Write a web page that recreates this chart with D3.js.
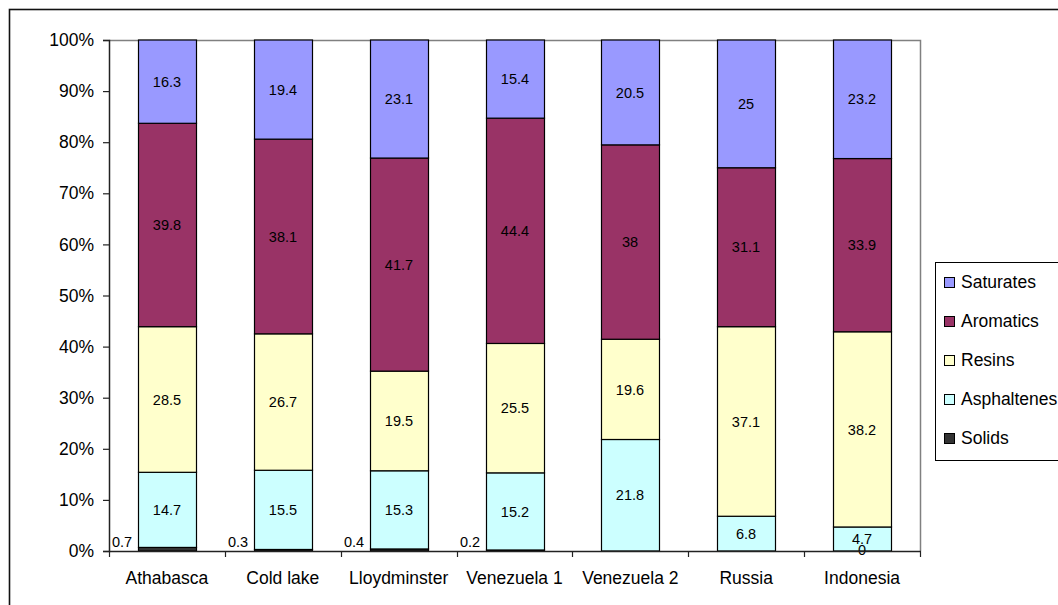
<!DOCTYPE html>
<html>
<head>
<meta charset="utf-8">
<script src="https://cdn.jsdelivr.net/npm/d3@7"></script>
<style>
  html, body { margin: 0; padding: 0; background: #fff; }
  svg { display: block; font-family: Arial, "Liberation Sans", sans-serif; }
</style>
</head>
<body>
<svg id="chart" width="1058" height="605"></svg>
<script>
// Crude oil fractions (wt %) per sample
const categories = ["Athabasca", "Cold lake", "Lloydminster", "Venezuela 1", "Venezuela 2", "Russia", "Indonesia"];
const saturates   = [16.3, 19.4, 23.1, 15.4, 20.5, 25,   23.2];
const aromatics   = [39.8, 38.1, 41.7, 44.4, 38,   31.1, 33.9];
const resins      = [28.5, 26.7, 19.5, 25.5, 19.6, 37.1, 38.2];
const asphaltenes = [14.7, 15.5, 15.3, 15.2, 21.8, 6.8,  4.7];
const solids      = [0.7,  0.3,  0.4,  0.2,  null, null, 0];
const yTicks = [0, 0.1, 0.2, 0.3, 0.4, 0.5, 0.6, 0.7, 0.8, 0.9, 1.0];

// Series in stacking order (bottom to top)
const series = [
  { key: "Solids",      values: solids,      color: "#333333" },
  { key: "Asphaltenes", values: asphaltenes, color: "#CCFFFF" },
  { key: "Resins",      values: resins,      color: "#FFFFCC" },
  { key: "Aromatics",   values: aromatics,   color: "#993366" },
  { key: "Saturates",   values: saturates,   color: "#9999FF" }
];
const legendOrder = ["Saturates", "Aromatics", "Resins", "Asphaltenes", "Solids"];

const table = categories.map((c, i) => {
  const row = { category: c };
  series.forEach(s => { row[s.key] = s.values[i] == null ? 0 : s.values[i]; });
  return row;
});

const stacked = d3.stack()
  .keys(series.map(s => s.key))
  .offset(d3.stackOffsetExpand)(table);

const svg = d3.select("#chart");
const plot = { left: 109, top: 40, right: 920, bottom: 551 };

// Outer chart frame
svg.append("rect")
  .attr("x", 9.5).attr("y", 9.5)
  .attr("width", 1100).attr("height", 700)
  .attr("fill", "#fff").attr("stroke", "#111").attr("stroke-width", 1.6);

const x = d3.scaleBand()
  .domain(categories)
  .range([plot.left, plot.right])
  .paddingInner(0.5).paddingOuter(0.25);

const y = d3.scaleLinear().domain([0, 1]).range([plot.bottom, plot.top]);

// Plot-area border (top and right)
svg.append("path")
  .attr("d", `M${plot.left},${plot.top + 0.5}H${plot.right + 0.5}V${plot.bottom}`)
  .attr("fill", "none").attr("stroke", "#808080").attr("stroke-width", 1.5);

// Bars
const colorOf = Object.fromEntries(series.map(s => [s.key, s.color]));
const layers = svg.append("g").selectAll("g")
  .data(stacked).join("g")
  .attr("fill", d => colorOf[d.key]);

layers.selectAll("rect")
  .data(d => d.map((p, i) => ({ p, i, key: d.key })))
  .join("rect")
  .attr("x", d => Math.round(x(categories[d.i])) + 0.5)
  .attr("y", d => y(d.p[1]))
  .attr("width", Math.round(x.bandwidth()))
  .attr("height", d => Math.max(0, y(d.p[0]) - y(d.p[1])))
  .attr("stroke", "#000").attr("stroke-width", 1.2);

// Data labels
const labels = svg.append("g")
  .attr("font-size", 14.5).attr("fill", "#000").attr("text-anchor", "middle");

stacked.forEach(layer => {
  const src = series.find(s => s.key === layer.key).values;
  layer.forEach((p, i) => {
    const v = src[i];
    if (v == null) return;
    const bx = Math.round(x(categories[i]));
    let cx = bx + x.bandwidth() / 2;
    let cy = (y(p[0]) + y(p[1])) / 2;
    if (layer.key === "Solids" && v > 0) {
      // thin segment: label sits beside the bar
      cx = bx - 16;
      cy = y(0) - 9;
    } else if (layer.key === "Solids") {
      cy = y(0) - 1;
    }
    labels.append("text")
      .attr("x", cx).attr("y", cy)
      .attr("dy", "0.36em")
      .text(v);
  });
});

// Y axis
const yAxis = svg.append("g")
  .attr("transform", `translate(${plot.left},0)`)
  .call(d3.axisLeft(y).tickValues(yTicks).tickFormat(d3.format(".0%")).tickSize(6).tickPadding(9));
yAxis.select(".domain").attr("stroke", "#222").attr("stroke-width", 1.5);
yAxis.selectAll(".tick line").attr("stroke", "#222").attr("stroke-width", 1.2);
yAxis.selectAll("text").attr("font-size", 17.5).attr("fill", "#000")
  .attr("font-family", "Arial, 'Liberation Sans', sans-serif");

// X axis: baseline, boundary ticks and category names
const xg = svg.append("g");
xg.append("line")
  .attr("x1", plot.left).attr("x2", plot.right + 1)
  .attr("y1", plot.bottom + 0.5).attr("y2", plot.bottom + 0.5)
  .attr("stroke", "#222").attr("stroke-width", 1.5);

const step = x.step();
const bounds = d3.range(categories.length + 1).map(i => plot.left + i * (plot.right - plot.left) / categories.length);
xg.selectAll("line.tick").data(bounds).join("line")
  .attr("class", "tick")
  .attr("x1", d => Math.round(d) + 0.5).attr("x2", d => Math.round(d) + 0.5)
  .attr("y1", plot.bottom).attr("y2", plot.bottom + 6)
  .attr("stroke", "#222").attr("stroke-width", 1.2);

xg.selectAll("text").data(categories).join("text")
  .attr("x", d => x(d) + x.bandwidth() / 2)
  .attr("y", 584)
  .attr("text-anchor", "middle")
  .attr("font-size", 17.5).attr("fill", "#000")
  .text(d => d);

// Legend
const legend = svg.append("g");
legend.append("rect")
  .attr("x", 935.5).attr("y", 262.5)
  .attr("width", 140).attr("height", 198)
  .attr("fill", "#fff").attr("stroke", "#000").attr("stroke-width", 1);

legendOrder.forEach((k, i) => {
  const cy = 283 + i * 39;
  legend.append("rect")
    .attr("x", 944.5).attr("y", cy - 5.5)
    .attr("width", 10).attr("height", 10)
    .attr("fill", colorOf[k]).attr("stroke", "#000").attr("stroke-width", 1);
  legend.append("text")
    .attr("x", 961).attr("y", cy + 5)
    .attr("font-size", 17.5).attr("fill", "#000")
    .text(k);
});
</script>
</body>
</html>
